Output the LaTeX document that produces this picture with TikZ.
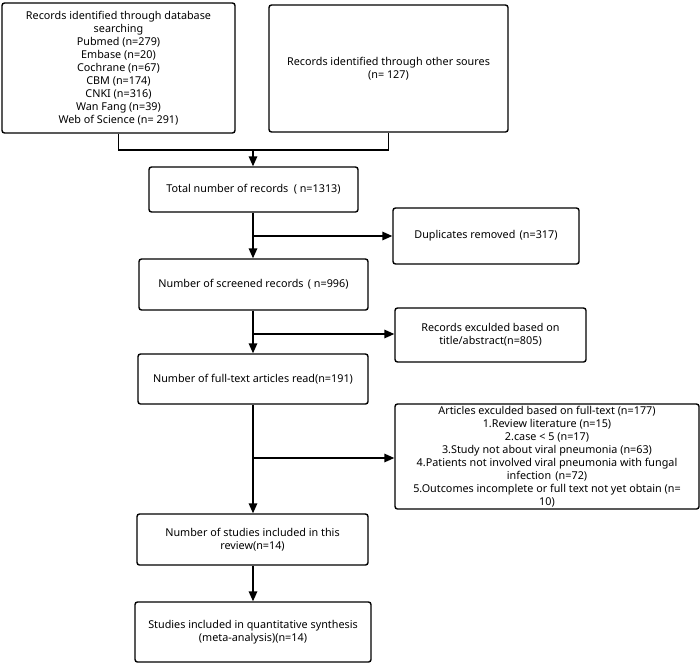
\documentclass[tikz,border=0pt]{standalone}
\usepackage{fontspec}
\setmainfont{Noto Sans}
\usetikzlibrary{arrows.meta}
\tikzset{
  box/.style={draw=black, line width=1.4pt, rounded corners=2.5pt, align=center,
    font=\fontsize{10.8}{13}\selectfont, inner sep=1pt, fill=white},
  link/.style={draw=black, line width=1.6pt},
  arr/.style={link, -{Triangle[length=10pt,width=8.5pt]}},
}
\begin{document}
\begin{tikzpicture}[x=1pt,y=-1pt]
\useasboundingbox[fill=white] (0,0) rectangle (700,664);
\node[box, minimum width=233pt, minimum height=130pt] (b1) at (118.5,68)
  {Records identified through database\\searching\\Pubmed (n=279)\\Embase (n=20)\\Cochrane (n=67)\\CBM (n=174)\\CNKI (n=316)\\Wan Fang (n=39)\\Web of Science (n= 291)};
\node[box, minimum width=239pt, minimum height=127pt] (b2) at (388.5,68.5)
  {Records identified through other soures\\(n= 127)};
\node[box, minimum width=209pt, minimum height=45pt] (b3) at (253.5,189.5)
  {Total number of records\hspace{0.5em}( n=1313)};
\node[box, minimum width=186pt, minimum height=56pt] (dup) at (486,236)
  {Duplicates removed\hspace{0.4em}(n=317)};
\node[box, minimum width=229pt, minimum height=51pt] (scr) at (253.5,284.5)
  {Number of screened records\hspace{0.4em}( n=996)};
\node[box, minimum width=191pt, minimum height=54pt] (rex) at (490.5,335)
  {Records exculded based on\\title/abstract(n=805)};
\node[box, minimum width=230pt, minimum height=50pt] (ft) at (253,379)
  {Number of full-text articles read(n=191)};
\node[box, minimum width=304pt, minimum height=105pt] (aex) at (547,456.5)
  {Articles exculded based on full-text (n=177)\\1.Review literature (n=15)\\2.case \textless{} 5 (n=17)\\3.Study not about viral pneumonia (n=63)\\4.Patients not involved viral pneumonia with fungal\\infection\hspace{0.4em}(n=72)\\5.Outcomes incomplete or full text not yet obtain (n=\\10)};
\node[box, minimum width=231pt, minimum height=51pt] (rev) at (252.5,539.5)
  {Number of studies included in this\\review(n=14)};
\node[box, minimum width=236pt, minimum height=60pt] (fin) at (253,632)
  {Studies included in quantitative synthesis\\(meta-analysis)(n=14)};
\coordinate (jt) at (253,150);
\coordinate (j1) at (253,236);
\coordinate (j2) at (253,334);
\coordinate (j3) at (253,458);
\draw[link] (b1.south) |- (jt) -| (b2.south);
\draw[arr] (jt) -- (b3.north -| jt);
\draw[arr] (b3.south -| j1) -- (scr.north -| j1);
\draw[arr] (j1) -- (j1 -| dup.west);
\draw[arr] (scr.south -| j2) -- (ft.north -| j2);
\draw[arr] (j2) -- (j2 -| rex.west);
\draw[arr] (ft.south -| j3) -- (rev.north -| j3);
\draw[arr] (j3) -- (j3 -| aex.west);
\draw[arr] (rev.south -| j3) -- (fin.north -| j3);
\end{tikzpicture}
\end{document}
